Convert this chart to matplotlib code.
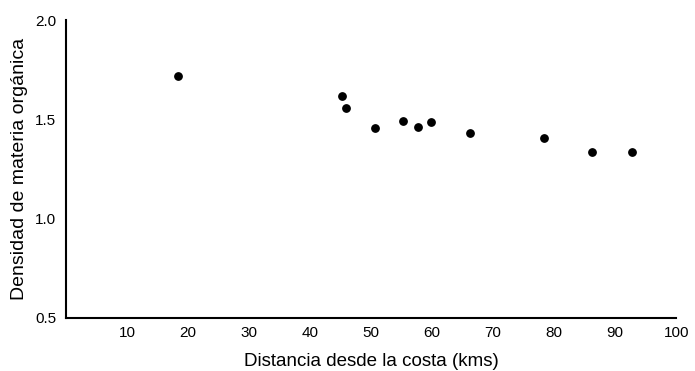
import matplotlib
matplotlib.use('Agg')
import matplotlib.pyplot as plt

# datos
distancia = [18.4, 45.2, 45.8, 50.7, 55.2, 57.7, 59.8, 66.2, 78.3, 86.2, 92.8]
densidad = [1.72, 1.616, 1.557, 1.454, 1.493, 1.460, 1.487, 1.431, 1.408, 1.337, 1.334]
xticks = [10, 20, 30, 40, 50, 60, 70, 80, 90, 100]
yticks = [0.5, 1.0, 1.5, 2.0]

plt.rcParams['font.family'] = ['Liberation Sans', 'DejaVu Sans']

fig = plt.figure(figsize=(6.95, 3.71), dpi=100)
ax = fig.add_axes([0.095, 0.143, 0.878, 0.803])

ax.scatter(distancia, densidad, s=28, color='black', zorder=3)

ax.set_xlim(0, 100)
ax.set_ylim(0.5, 2.0)
ax.set_xticks(xticks)
ax.set_yticks(yticks)
ax.set_yticklabels(['{:.1f}'.format(v) for v in yticks])
ax.tick_params(axis='both', length=0, labelsize=11)
ax.tick_params(axis='x', pad=6)
ax.tick_params(axis='y', pad=7)

for side in ['top', 'right']:
    ax.spines[side].set_visible(False)
for side in ['left', 'bottom']:
    ax.spines[side].set_linewidth(1.5)
    ax.spines[side].set_color('black')

ax.set_xlabel('Distancia desde la costa (kms)', fontsize=13.5, labelpad=9)
ax.set_ylabel('Densidad de materia orgánica', fontsize=14, labelpad=5)

fig.savefig('out.png', dpi=100)
